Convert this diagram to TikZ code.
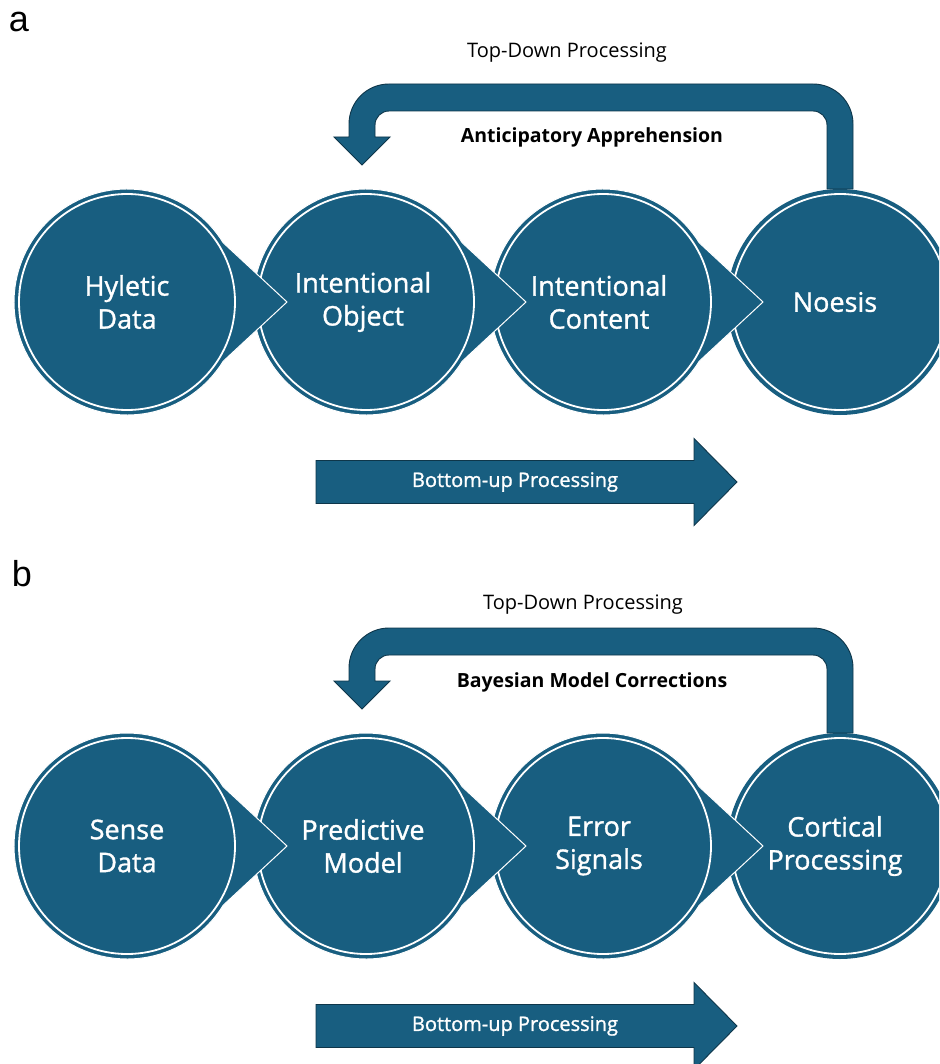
\documentclass[tikz,border=0pt]{standalone}
\usepackage{fontspec}
\setmainfont{Open Sans}
\newfontfamily\labelfont{Liberation Sans}
\newfontfamily\stagefont[FakeBold=1.2]{Open Sans}
\usetikzlibrary{calc,positioning}

\definecolor{petrol}{RGB}{24,94,128}
\definecolor{petroldark}{RGB}{14,54,74}

\tikzset{
  stage/.style={text=white, align=center, inner sep=0pt, font=\stagefont\fontsize{27}{33}\selectfont},
  plain label/.style={inner sep=0pt, font=\fontsize{20}{23}\selectfont},
  bold label/.style={inner sep=0pt, font=\bfseries\fontsize{19.5}{22}\selectfont},
  arrow label/.style={text=white, inner sep=0pt, font=\stagefont\fontsize{20}{23}\selectfont},
  panel label/.style={inner sep=0pt, font=\labelfont\fontsize{36}{40}\selectfont},
  fat arrow/.style={fill=petrol, draw=petroldark, line width=0.9pt},
  drop/.style={fill=petrol, draw=white, line width=1pt},
  ring/.style={draw=white, line width=1.8pt},
}

% circle with a pointed tip to the right
\newcommand{\stagedrop}[1]{%
  \draw[drop] ($(#1)+(31.6:113)$) -- ($(#1)+(160,0)$) -- ($(#1)+(-31.6:113)$)
    arc[start angle=-31.6, end angle=-328.4, radius=113] -- cycle;
  \draw[ring] (#1) circle (108);
}

% bent arrow from the top of #1 back down to the top of #2
\newcommand{\feedbackarrow}[2]{%
  \coordinate (fbs) at ($(#1)+(0,-113)$);
  \coordinate (fbe) at ($(#2)+(-4,-113)$);
  \draw[fat arrow] ($(fbs)+(-13,0)$) -- ($(fbs)+(-13,-64)$)
    arc[start angle=0, end angle=-90, radius=14]
    -- ($(fbe)+(27,-78)$) arc[start angle=-90, end angle=-180, radius=14]
    -- ($(fbe)+(13,-52)$) -- ($(fbe)+(28,-52)$) -- ($(fbe)+(0,-24)$)
    -- ($(fbe)+(-28,-52)$) -- ($(fbe)+(-13,-52)$) -- ($(fbe)+(-13,-65)$)
    arc[start angle=180, end angle=270, radius=40]
    -- ($(fbs)+(-27,-105)$) arc[start angle=-90, end angle=0, radius=40]
    -- ($(fbs)+(13,0)$) -- cycle;
}

% straight block arrow around the point #1
\newcommand{\forwardarrow}[1]{%
  \draw[fat arrow] ($(#1)+(-199,-21.5)$) -- ($(#1)+(179,-21.5)$)
    -- ($(#1)+(179,-43.5)$) -- ($(#1)+(222,0)$) -- ($(#1)+(179,43.5)$)
    -- ($(#1)+(179,21.5)$) -- ($(#1)+(-199,21.5)$) -- cycle;
}

\begin{document}
\begin{tikzpicture}[x=1pt, y=-1pt]
    \useasboundingbox (0,0) rectangle (939,1064);
    \clip (0,0) rectangle (939,1064);
    \fill[white] (0,0) rectangle (939,1064);

    %%% panel a
    \node[panel label] (pa) at (19,22) {a};

    % stages, drawn right to left so each tip lies on the next circle
    \foreach \nm/\cx in {a4/840, a3/603, a2/366, a1/127}
        \coordinate (\nm) at (\cx,302);
    \fill[petrol] (a4) circle (113);
    \draw[ring] (a4) circle (108);
    \foreach \nm in {a3, a2, a1}
        \stagedrop{\nm};

    \node[stage] (hyletic) at (a1) {Hyletic\\Data};
    \node[stage] (intobj) at ($(a2)+(-3,0)$) {Intentional\\Object};
    \node[stage] (intcont) at ($(a3)+(-4,0)$) {Intentional\\Content};
    \node[stage] (noesis) at ($(a4)+(-5,0)$) {Noesis};

    % top-down loop
    \node[plain label] (tda) at (567,53) {Top-Down Processing};
    \feedbackarrow{a4}{a2}
    \node[bold label] (antic) at (592,137) {Anticipatory Apprehension};

    % bottom-up arrow
    \coordinate (bua) at (515,482);
    \forwardarrow{bua}
    \node[arrow label] (bulabela) at (bua) {Bottom-up Processing};

    %%% panel b
    \node[panel label] (pb) at (22,574) {b};

    \foreach \nm/\cx in {b4/840, b3/603, b2/366, b1/127}
        \coordinate (\nm) at (\cx,846);
    \fill[petrol] (b4) circle (113);
    \draw[ring] (b4) circle (108);
    \foreach \nm in {b3, b2, b1}
        \stagedrop{\nm};

    \node[stage] (sense) at (b1) {Sense\\Data};
    \node[stage] (predmod) at ($(b2)+(-3,0)$) {Predictive\\Model};
    \node[stage] (errsig) at ($(b3)+(-4,0)$) {Error\\Signals};
    \node[stage] (cortical) at ($(b4)+(-5,0)$) {Cortical\\Processing};

    % top-down loop
    \node[plain label] (tdb) at (583,605) {Top-Down Processing};
    \feedbackarrow{b4}{b2}
    \node[bold label] (bayes) at (592,682) {Bayesian Model Corrections};

    % bottom-up arrow
    \coordinate (bub) at (515,1026);
    \forwardarrow{bub}
    \node[arrow label] (bulabelb) at (bub) {Bottom-up Processing};
\end{tikzpicture}
\end{document}
